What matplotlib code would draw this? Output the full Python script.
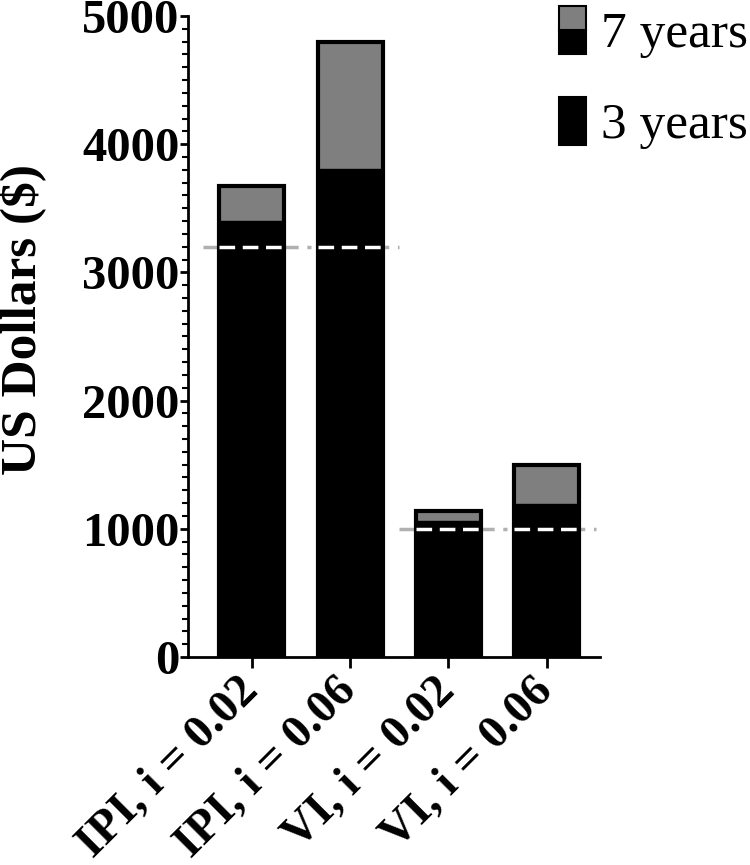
import matplotlib.pyplot as plt
from matplotlib.patches import Rectangle
from matplotlib.legend_handler import HandlerBase
from matplotlib.ticker import MultipleLocator

plt.rcParams['font.family'] = ['Liberation Serif', 'DejaVu Serif']

categories = ["IPI, i = 0.02", "IPI, i = 0.06", "VI, i = 0.02", "VI, i = 0.06"]
years3 = [3400, 3810, 1060, 1195]
years7 = [3670, 4800, 1140, 1500]
# reference (dashed) levels, one per pair of bars
ref_levels = [3200, 1000]
ref_groups = [(0, 1), (2, 3)]

width = 0.66
gray = "#7f7f7f"
shift = 9  # points, move legend patches down relative to the text


class SevenYearHandler(HandlerBase):
    # legend patch: gray on top, black below (like the bars)
    def create_artists(self, legend, orig_handle, x0, y0, w, h, fontsize, trans):
        y0 = y0 - shift
        bottom = Rectangle((x0, y0), w, 0.5 * h, facecolor="black",
                           edgecolor="black", lw=1.5, transform=trans)
        top = Rectangle((x0, y0 + 0.5 * h), w, 0.5 * h, facecolor=gray,
                        edgecolor="black", lw=1.5, transform=trans)
        return [bottom, top]


class ThreeYearHandler(HandlerBase):
    def create_artists(self, legend, orig_handle, x0, y0, w, h, fontsize, trans):
        return [Rectangle((x0, y0 - shift), w, h, facecolor="black", edgecolor="black",
                          lw=1.5, transform=trans)]


fig = plt.figure(figsize=(7.5, 8.65), dpi=100)
ax = fig.add_axes([0.2507, 0.2405, 0.549, 0.741])

x = list(range(len(categories)))
h7 = ax.bar(x, years7, width=width, color=gray, edgecolor="black", linewidth=3, zorder=2)
h3 = ax.bar(x, years3, width=width, color="black", edgecolor="black", linewidth=1, zorder=3)

for level, (a, b) in zip(ref_levels, ref_groups):
    ax.plot([a - 0.5, b + 0.5], [level, level], color="#b0b0b0", lw=2.5,
            dashes=(5, 2.5, 1.2, 2.5), zorder=1.5)
    for i in (a, b):
        ax.plot([i - width / 2, i + width / 2], [level, level], color="white", lw=2.5,
                dashes=(4.5, 2.2), zorder=4)

ax.set_xlim(-0.65, 3.54)
ax.set_ylim(0, 5000)
ax.set_xticks(x)
ax.set_xticklabels(categories, rotation=45, ha="right", va="center",
                   rotation_mode="anchor", fontsize=34, fontweight="bold")
ax.yaxis.set_major_locator(MultipleLocator(1000))
ax.yaxis.set_minor_locator(MultipleLocator(100))
for lab in ax.get_yticklabels():
    lab.set_fontsize(35)
    lab.set_fontweight("bold")
ax.tick_params(axis="y", which="major", length=6, width=2, pad=0)
ax.tick_params(axis="y", which="minor", length=4, width=1.5)
ax.tick_params(axis="x", which="major", length=8, width=2, pad=12)
ax.set_ylabel("US Dollars ($)", fontsize=37, fontweight="bold")
ax.yaxis.set_label_coords(-0.343, 0.526)

for side in ("top", "right"):
    ax.spines[side].set_visible(False)
for side in ("left", "bottom"):
    ax.spines[side].set_linewidth(2)

leg = fig.legend([h7, h3], ["7 years", "3 years"],
                 handler_map={h7: SevenYearHandler(), h3: ThreeYearHandler()},
                 loc="upper left", bbox_to_anchor=(0.745, 0.993), frameon=False,
                 prop={"size": 37}, handlelength=0.53, handleheight=1.05,
                 handletextpad=0.3, labelspacing=0.75, borderpad=0, borderaxespad=0)

fig.savefig("out.png", dpi=100)
